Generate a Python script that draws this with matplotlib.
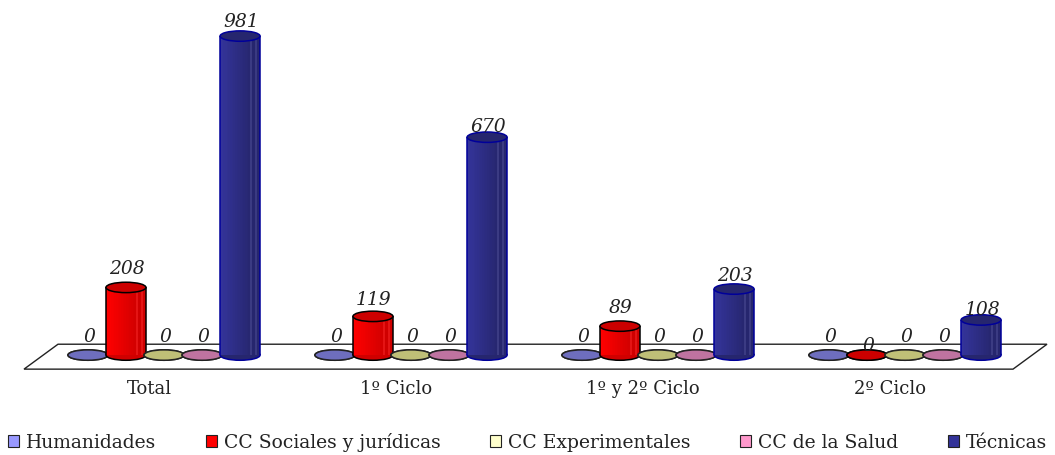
import numpy as np
import matplotlib
matplotlib.use("Agg")
import matplotlib.pyplot as plt
from matplotlib.patches import Ellipse, Patch, Polygon

plt.rcParams['font.family'] = ['DejaVu Serif']

categories = ["Total", "1º Ciclo", "1º y 2º Ciclo", "2º Ciclo"]
series = ["Humanidades", "CC Sociales y jurídicas", "CC Experimentales", "CC de la Salud", "Técnicas"]
humanidades = [0, 0, 0, 0]
sociales = [208, 119, 89, 0]
experimentales = [0, 0, 0, 0]
salud = [0, 0, 0, 0]
tecnicas = [981, 670, 203, 108]
values = [humanidades, sociales, experimentales, salud, tecnicas]

legend_colors = ["#9999FF", "#FF0000", "#FFFFCC", "#FF99CC", "#333399"]
top_colors = ["#6E6EBE", "#CC0000", "#BFBF77", "#BF73A0", "#26266E"]
body_left = ["#9999FF", "#FF0000", "#FFFFCC", "#FF99CC", "#34349A"]
body_right = ["#6E6EBE", "#D00000", "#BFBF77", "#BF73A0", "#26266E"]
edge_colors = ["#222222", "#000000", "#222222", "#222222", "#00009A"]

# label offsets in pixels, default is 10
label_off = {981: 6, 670: 2, 203: 5, 119: 8, 108: 2}

step = 0.154
bar_w = 0.162
ell_h = 32

fig = plt.figure(figsize=(10.55, 4.56), dpi=100)
ax = fig.add_axes([0, 84 / 456, 1, 372 / 456])
ax.set_xlim(-164 / 247, 891 / 247)
ax.set_ylim(-49, 1095)
for s in ax.spines.values():
    s.set_visible(False)
ax.set_yticks([])

# floor of the 3d plot
floor = Polygon([(24 / 1055, 0.005), (1013 / 1055, 0.005), (1047 / 1055, 0.072), (58 / 1055, 0.072)],
                closed=True, transform=ax.transAxes, facecolor="white", edgecolor="#222222", lw=1, zorder=1)
ax.add_patch(floor)


def draw_cylinder(x, val, j):
    edge = edge_colors[j]
    z = 3 + j
    base = Ellipse((x, 0), bar_w, ell_h, facecolor=body_right[j], edgecolor=edge, lw=1.1, zorder=z)
    ax.add_patch(base)
    if val > 0:
        # shade the body with thin vertical strips
        n = 24
        w = bar_w / n
        c0 = np.array(matplotlib.colors.to_rgb(body_left[j]))
        c1 = np.array(matplotlib.colors.to_rgb(body_right[j]))
        for k in range(n):
            t = k / (n - 1)
            col = c0 + (c1 - c0) * min(t * 1.25, 1)
            if k in (18, 21):
                col = np.minimum(col + 0.08, 1)
            ax.bar(x - bar_w / 2 + (k + 0.5) * w, val, width=w * 1.05, color=col, lw=0, zorder=z)
        ax.vlines([x - bar_w / 2, x + bar_w / 2], 0, val, color=edge, lw=1.1, zorder=z)
    top = Ellipse((x, val), bar_w, ell_h, facecolor=top_colors[j], edgecolor=edge, lw=1.1, zorder=z)
    ax.add_patch(top)


for i in range(len(categories)):
    for j in range(len(series)):
        x = i + (j - 2) * step
        val = values[j][i]
        draw_cylinder(x, val, j)
        off = label_off.get(val, 10)
        if val == 0 and j == 1:
            off = 1
        ax.annotate(str(val), (x, val), xytext=(1, off), textcoords="offset pixels", ha="center", va="bottom",
                    style="italic", fontsize=13.5, color="#222222", zorder=20)

ax.set_xticks([i - 0.06 for i in range(len(categories))])
ax.set_xticklabels(categories, fontsize=13, color="#222222")
ax.tick_params(axis='x', length=0, pad=6)

handles = [Patch(facecolor=c, edgecolor="#222222", lw=0.8) for c in legend_colors]
fig.legend(handles, series, loc="center", bbox_to_anchor=(0.5, 13 / 456), ncol=5, frameon=False,
           fontsize=13.5, handlelength=0.6, handleheight=0.6, handletextpad=0.35, columnspacing=2.65, labelcolor="#222222",
           borderaxespad=0, borderpad=0)

fig.savefig("out.png", dpi=100)
